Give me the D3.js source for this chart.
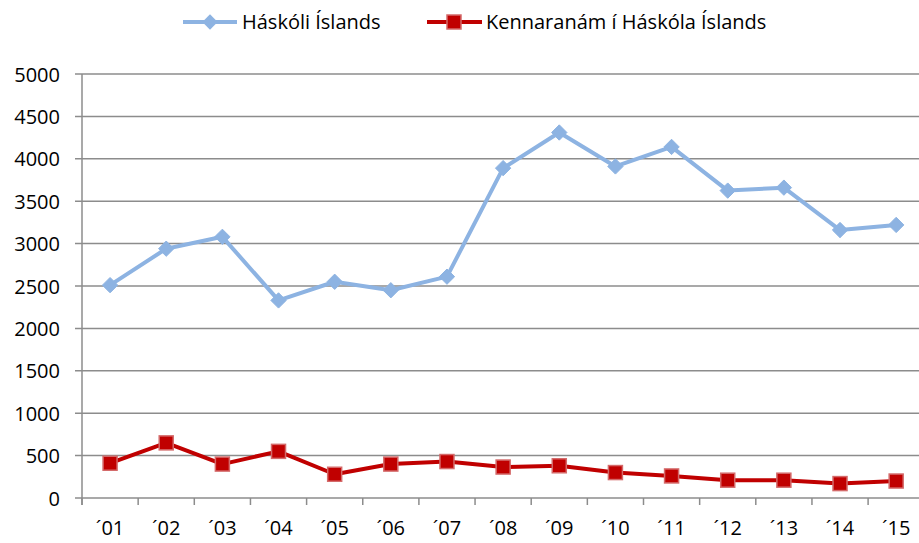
<!DOCTYPE html>
<html>
<head>
<meta charset="utf-8">
<script src="https://cdn.jsdelivr.net/npm/d3@7"></script>
<style>
body{margin:0;background:#fff}
svg text{font-family:"Open Sans",sans-serif;fill:#000}
</style>
</head>
<body>
<div id="chart"></div>
<script>
var years = ["´01","´02","´03","´04","´05","´06","´07","´08","´09","´10","´11","´12","´13","´14","´15"]
var haskoli = [2510,2940,3080,2330,2550,2450,2610,3890,4310,3910,4140,3625,3660,3160,3220]
var kennaranam = [410,650,400,550,280,400,430,365,380,300,260,210,210,170,200]
var yTicks = [0,500,1000,1500,2000,2500,3000,3500,4000,4500,5000]
var seriesNames = ["Háskóli Íslands","Kennaranám í Háskóla Íslands"]

var w = 919
var h = 543
var plotLeft = 82, plotTop = 74, plotBottom = 498
var band = 56.15

var svg = d3.select("#chart").append("svg").attr("width",w).attr("height",h)

var x = d3.scaleBand().domain(years).range([plotLeft,plotLeft+band*years.length]).padding(0)
var y = d3.scaleLinear().domain([0,5000]).range([plotBottom,plotTop])

// gridlines
svg.selectAll(".grid")
	.data(yTicks)
	.enter()
	.append("line")
	.attr("x1",plotLeft-7)
	.attr("x2",w)
	.attr("y1",function(d){return y(d)})
	.attr("y2",function(d){return y(d)})
	.attr("stroke","#8c8c8c")
	.attr("stroke-width",1.5)

// y axis
var yAxis = svg.append("g")
	.attr("transform","translate("+plotLeft+",0)")
	.call(d3.axisLeft(y).tickValues(yTicks).tickFormat(d3.format("d")).tickSize(7).tickPadding(15))
yAxis.select(".domain").remove()
yAxis.selectAll(".tick line").remove()
yAxis.selectAll("text").style("font-size","20px").attr("dy","0.35em")

svg.append("line")
	.attr("x1",plotLeft).attr("x2",plotLeft)
	.attr("y1",plotTop).attr("y2",plotBottom+7)
	.attr("stroke","#8c8c8c").attr("stroke-width",1.5)

// x axis
var bounds = d3.range(years.length+1).map(function(i){return plotLeft+band*i})
svg.selectAll(".xtick")
	.data(bounds)
	.enter()
	.append("line")
	.attr("x1",function(d){return d})
	.attr("x2",function(d){return d})
	.attr("y1",plotBottom)
	.attr("y2",plotBottom+7)
	.attr("stroke","#8c8c8c")
	.attr("stroke-width",1.5)

svg.selectAll(".xlabel")
	.data(years)
	.enter()
	.append("text")
	.attr("x",function(d){return x(d)+x.bandwidth()/2})
	.attr("y",535)
	.attr("text-anchor","middle")
	.style("font-size","20px")
	.text(function(d){return d})

var line = d3.line()
	.x(function(d,i){return x(years[i])+x.bandwidth()/2})
	.y(function(d){return y(d)})

// blue series
svg.append("path")
	.datum(haskoli)
	.attr("d",line)
	.attr("fill","none")
	.attr("stroke","#8db3e2")
	.attr("stroke-width",4)
	.attr("stroke-linejoin","round")

var diamond = d3.symbol().type(d3.symbolDiamond2).size(150)
svg.selectAll(".dmd")
	.data(haskoli)
	.enter()
	.append("path")
	.attr("d",diamond)
	.attr("transform",function(d,i){return "translate("+(x(years[i])+x.bandwidth()/2)+","+y(d)+")"})
	.attr("fill","#8db3e2")
	.attr("stroke","#8db3e2")
	.attr("stroke-width",1)

// red series
svg.append("path")
	.datum(kennaranam)
	.attr("d",line)
	.attr("fill","none")
	.attr("stroke","#c00000")
	.attr("stroke-width",4)
	.attr("stroke-linejoin","round")

svg.selectAll(".sq")
	.data(kennaranam)
	.enter()
	.append("rect")
	.attr("x",function(d,i){return x(years[i])+x.bandwidth()/2-7})
	.attr("y",function(d){return y(d)-7})
	.attr("width",14)
	.attr("height",14)
	.attr("fill","#c00000")
	.attr("stroke","#d46a6a")
	.attr("stroke-width",1.5)

// legend
var lg = svg.append("g")
lg.append("line").attr("x1",183).attr("x2",237).attr("y1",22).attr("y2",22)
	.attr("stroke","#8db3e2").attr("stroke-width",4)
lg.append("path").attr("d",diamond).attr("transform","translate(210,22)").attr("fill","#8db3e2")
lg.append("text").attr("x",242).attr("y",22).attr("dy","0.35em").style("font-size","20px").text(seriesNames[0])

lg.append("line").attr("x1",427).attr("x2",482).attr("y1",22).attr("y2",22)
	.attr("stroke","#c00000").attr("stroke-width",4)
lg.append("rect").attr("x",447).attr("y",15).attr("width",14).attr("height",14)
	.attr("fill","#c00000").attr("stroke","#d46a6a").attr("stroke-width",1.5)
lg.append("text").attr("x",486).attr("y",22).attr("dy","0.35em").style("font-size","20px").text(seriesNames[1])
</script>
</body>
</html>
